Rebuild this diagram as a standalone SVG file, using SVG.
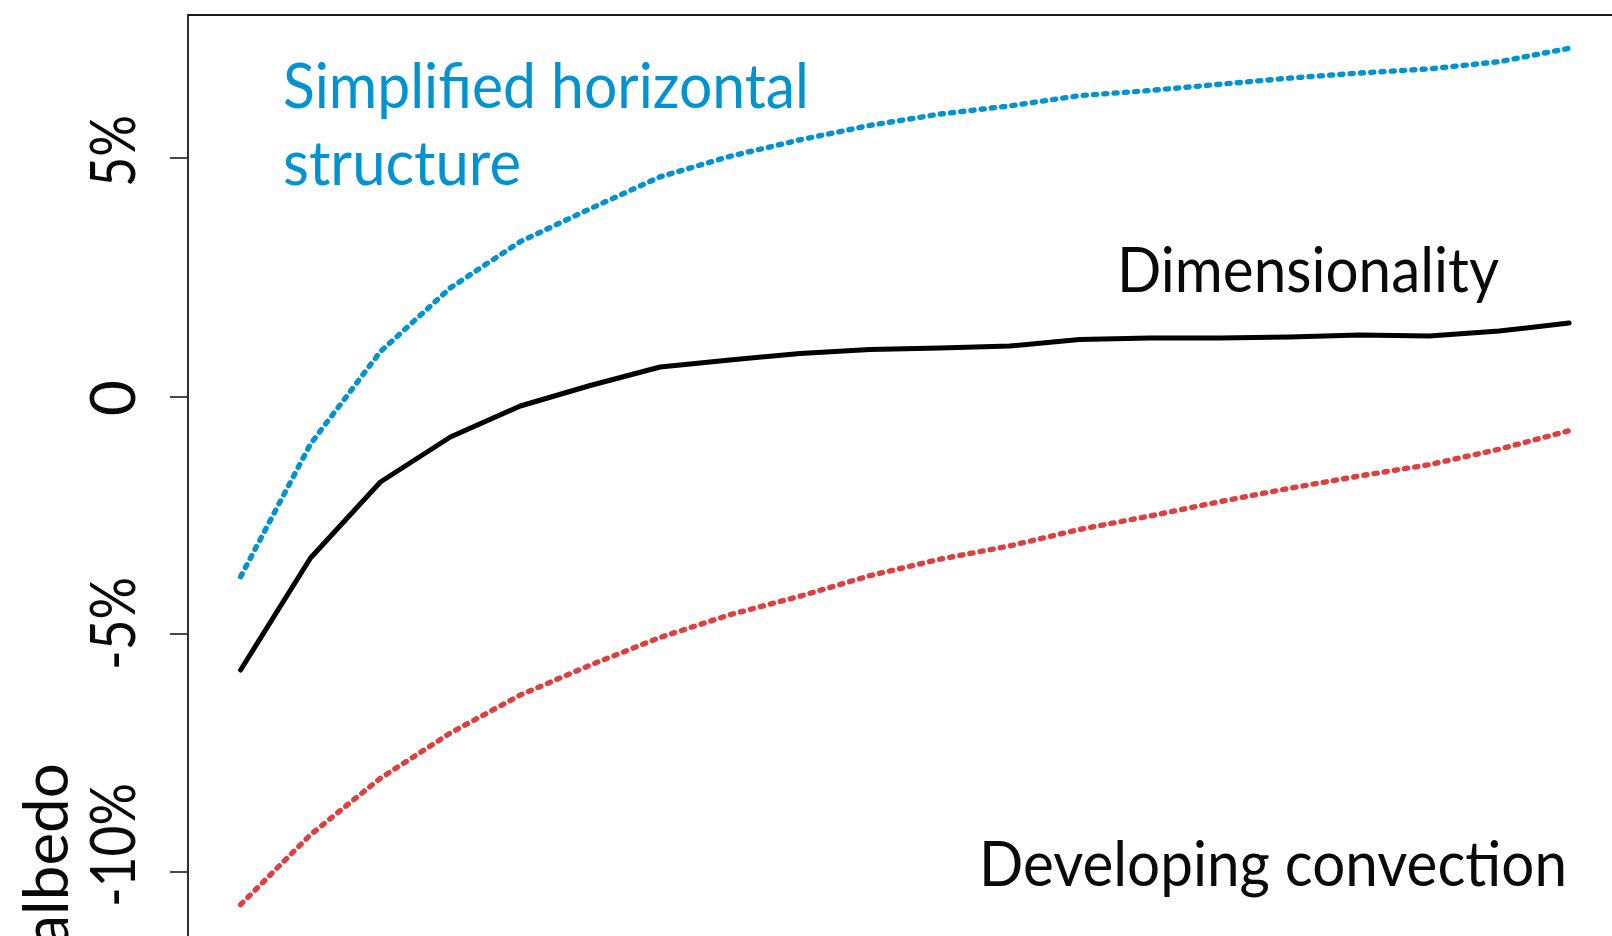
<svg xmlns="http://www.w3.org/2000/svg" width="1612" height="936" viewBox="0 0 1612 936">
<style>
.lbl{font-family:Lato,"Liberation Sans",sans-serif;font-size:62px;fill:#0a0a0a}
.blue{fill:#0093d0}
.axis{stroke:#1a1a1a;stroke-width:1.8;fill:none}
.tick{stroke:#333;stroke-width:1.8}
.dot{fill:none;stroke-width:5.4;stroke-linecap:round;stroke-linejoin:round;stroke-dasharray:3.2 7.1}
</style>
<rect width="1612" height="936" fill="#fff"/>
<g id="axes">
<path class="axis" d="M188 936V15H1612"/>
<g id="ticks">
<line class="tick" x1="170" y1="158" x2="188" y2="158"/>
<line class="tick" x1="170" y1="397" x2="188" y2="397"/>
<line class="tick" x1="170" y1="634" x2="188" y2="634"/>
<line class="tick" x1="170" y1="872" x2="188" y2="872"/>
</g>
<g id="ticklabels">
<text class="lbl" transform="translate(135,151) rotate(-90)" text-anchor="middle" textLength="72" lengthAdjust="spacingAndGlyphs">5%</text>
<text class="lbl" transform="translate(135,398) rotate(-90)" text-anchor="middle">0</text>
<text class="lbl" transform="translate(135,623.5) rotate(-90)" text-anchor="middle" textLength="93" lengthAdjust="spacingAndGlyphs">-5%</text>
<text class="lbl" transform="translate(135,845) rotate(-90)" text-anchor="middle" textLength="124" lengthAdjust="spacingAndGlyphs">-10%</text>
</g>
<text id="ytitle" class="lbl" transform="translate(68,763) rotate(-90)" text-anchor="end">albedo</text>
</g>
<g id="connectors">
<polyline id="simplified" class="dot" stroke="#0093d0" points="240.6,576.7 310.5,444 380.4,351.6 450.4,287.8 520.3,241.6 590.2,208.7 660.1,176.8 730,156.3 800,139.8 869.9,125.4 939.8,114.1 1009.7,105.9 1079.6,95.6 1149.6,90.5 1219.5,84.3 1289.4,78.1 1359.3,73 1429.2,68.9 1499.2,61.7 1569.1,48.3"/>
<polyline id="dimensionality" fill="none" stroke="#000" stroke-width="5" stroke-linecap="round" stroke-linejoin="round" points="240.6,670 310.5,558 380.4,482 450.4,437 520.3,406 590.2,385.5 660.1,367 730,360 800,353.5 869.9,349.5 939.8,348 1009.7,346 1079.6,339.5 1149.6,338 1219.5,338 1289.4,337 1359.3,335 1429.2,336 1499.2,331 1569.1,323"/>
<polyline id="developing" class="dot" stroke="#dd4040" points="240.6,904.6 310.5,834.7 380.4,778.2 450.4,733 520.3,695 590.2,665.1 660.1,637.4 730,614.7 800,596.2 869.9,575.7 939.8,559.2 1009.7,545.9 1079.6,529.4 1149.6,516.1 1219.5,501.7 1289.4,488.3 1359.3,476 1429.2,464.7 1499.2,449.2 1569.1,430.7"/>
</g>
<g id="label-simplified">
<text class="lbl blue" x="283" y="108" textLength="526" lengthAdjust="spacingAndGlyphs">Simplified horizontal</text>
<text class="lbl blue" x="283" y="185" textLength="238" lengthAdjust="spacingAndGlyphs">structure</text>
</g>
<g id="label-dimensionality">
<text class="lbl" x="1117" y="292" textLength="382" lengthAdjust="spacingAndGlyphs">Dimensionality</text>
</g>
<g id="label-developing">
<text class="lbl" x="979" y="886" textLength="588" lengthAdjust="spacingAndGlyphs">Developing convection</text>
</g>
</svg>
